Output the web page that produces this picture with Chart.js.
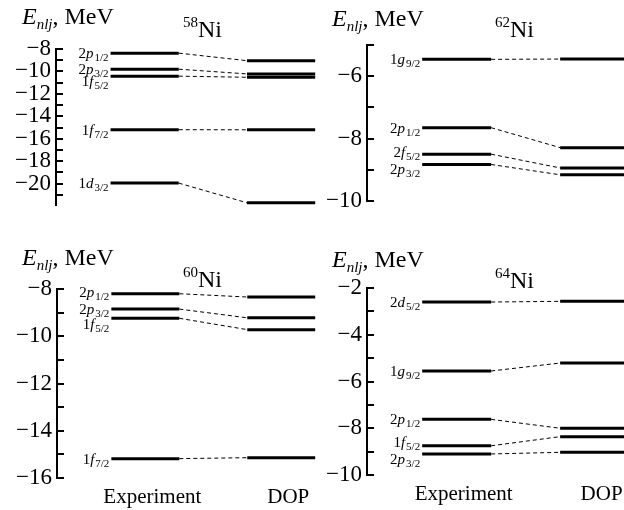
<!DOCTYPE html>
<html lang="ru">
<head>
<meta charset="UTF-8">
<title>Ni single-particle levels</title>
<script src="https://cdn.jsdelivr.net/npm/chart.js"></script>
<style>
  body{margin:0;background:#fff;overflow:hidden;}
  .wrap{position:relative;width:624px;height:510px;overflow:hidden;}
  canvas{position:absolute;}
</style>
</head>
<body>
<div class="wrap">
  <canvas id="ni58" width="322" height="245" style="left:0;top:0"></canvas>
  <canvas id="ni62" width="326" height="245" style="left:310px;top:0"></canvas>
  <canvas id="ni60" width="322" height="265" style="left:0;top:245px"></canvas>
  <canvas id="ni64" width="326" height="265" style="left:310px;top:245px"></canvas>
</div>
<script>
// energies E_nlj in MeV: experiment vs DOP
var ni58Levels = ['2p1/2', '2p3/2', '1f5/2', '1f7/2', '1d3/2'];
var ni58Exp = [-8.37, -9.8, -10.42, -15.19, -19.95];
var ni58Dop = [-9.04, -10.22, -10.52, -15.2, -21.7];

var ni62Levels = ['1g9/2', '2p1/2', '2f5/2', '2p3/2'];
var ni62Exp = [-5.46, -7.65, -8.5, -8.83];
var ni62Dop = [-5.45, -8.29, -8.94, -9.16];

var ni60Levels = ['2p1/2', '2p3/2', '1f5/2', '1f7/2'];
var ni60Exp = [-8.2, -8.85, -9.24, -15.18];
var ni60Dop = [-8.34, -9.22, -9.72, -15.14];

var ni64Levels = ['2d5/2', '1g9/2', '2p1/2', '1f5/2', '2p3/2'];
var ni64Exp = [-2.6, -5.55, -7.62, -8.75, -9.1];
var ni64Dop = [-2.57, -5.21, -8.0, -8.36, -9.03];

// axis ranges [min, max]
var ni58Range = [-21.9, -8];
var ni62Range = [-10, -5];
var ni60Range = [-16, -8];
var ni64Range = [-10, -2];

var columns = ['Experiment', 'DOP'];

var SERIF = "'Liberation Serif', 'Times New Roman', Times, 'DejaVu Serif', serif";
var HALF = 0.25; // half width of a level bar in x units

function minus(v) {
  return v < 0 ? '\u2212' + Math.abs(v) : '' + v;
}

function buildDatasets(exp, dop) {
  var ds = [];
  for (var i = 0; i < exp.length; i++) {
    ds.push({data: [{x: 1 - HALF, y: exp[i]}, {x: 1 + HALF, y: exp[i]}], borderWidth: 3});
    ds.push({data: [{x: 1 + HALF, y: exp[i]}, {x: 2 - HALF, y: dop[i]}], borderWidth: 1, borderDash: [4, 3]});
    ds.push({data: [{x: 2 - HALF, y: dop[i]}, {x: 2 + HALF, y: dop[i]}], borderWidth: 3});
  }
  ds.forEach(function (d) {
    d.borderColor = '#000';
    d.pointRadius = 0;
    d.fill = false;
    d.tension = 0;
  });
  return ds;
}

// draws titles and the nl_j labels with sub/superscripts
var textPlugin = {
  id: 'levelText',
  afterDraw: function (chart, args, o) {
    var ctx = chart.ctx;
    var xs = chart.scales.x, ys = chart.scales.y;
    ctx.save();
    ctx.fillStyle = '#000';
    ctx.textBaseline = 'alphabetic';
    ctx.textAlign = 'left';

    // E_nlj, MeV
    var x = o.title[0], y = o.title[1];
    ctx.font = 'italic 24px ' + SERIF;
    ctx.fillText('E', x, y);
    x += ctx.measureText('E').width;
    ctx.font = 'italic 15px ' + SERIF;
    ctx.fillText('nlj', x, y + 5);
    x += ctx.measureText('nlj').width;
    ctx.font = '24px ' + SERIF;
    ctx.fillText(', MeV', x, y);

    // isotope
    x = o.iso[0]; y = o.iso[1];
    ctx.font = '15px ' + SERIF;
    ctx.fillText(o.mass, x, y - 10);
    x += ctx.measureText(o.mass).width;
    ctx.font = '24px ' + SERIF;
    ctx.fillText('Ni', x, y);

    // level labels, right aligned at the start of the experiment bar
    var xEnd = xs.getPixelForValue(1 - HALF) - 2;
    o.levels.forEach(function (name, i) {
      var n = name.charAt(0), l = name.charAt(1), j = name.slice(2);
      var base = ys.getPixelForValue(o.exp[i]) + (o.nudge[i] || 0) + 5;
      ctx.font = '15px ' + SERIF;
      var wn = ctx.measureText(n).width;
      ctx.font = 'italic 15px ' + SERIF;
      var wl = ctx.measureText(l).width;
      ctx.font = '11px ' + SERIF;
      var wj = ctx.measureText(j).width;
      var sx = xEnd - (wn + wl + wj + 1);
      ctx.font = '15px ' + SERIF;
      ctx.fillText(n, sx, base);
      ctx.font = 'italic 15px ' + SERIF;
      ctx.fillText(l, sx + wn, base);
      ctx.font = '11px ' + SERIF;
      ctx.fillText(j, sx + wn + wl + 1, base + 3);
    });
    ctx.restore();
  }
};

function makePanel(id, levels, exp, dop, range, p) {
  var xScale = {
    type: 'linear',
    min: 0.35,
    max: 2.3,
    display: p.showX,
    grid: {display: false, drawTicks: false},
    border: {display: false},
    ticks: {
      autoSkip: false,
      color: '#000',
      font: {family: SERIF, size: 21},
      padding: 7,
      labelOffset: 7,
      callback: function (v) { return columns[v - 1]; }
    },
    afterBuildTicks: function (s) { s.ticks = [{value: 1}, {value: 2}]; },
    afterFit: function (s) { s.height = 32; s.paddingLeft = 0; s.paddingRight = 0; }
  };
  var yScale = {
    type: 'linear',
    min: range[0],
    max: range[1],
    grid: {
      drawOnChartArea: false,
      drawTicks: true,
      tickLength: -7,
      lineWidth: 2,
      color: '#000'
    },
    border: {display: true, color: '#000', width: 2},
    ticks: {
      autoSkip: false,
      stepSize: 1,
      includeBounds: false,
      padding: 12,
      color: '#000',
      font: {family: SERIF, size: 23},
      callback: function (v) { return v % 2 === 0 ? minus(v) : ''; }
    },
    afterFit: function (s) { s.width = p.axisWidth; s.paddingTop = 0; s.paddingBottom = 0; }
  };

  return new Chart(document.getElementById(id), {
    type: 'line',
    data: {datasets: buildDatasets(exp, dop)},
    options: {
      responsive: false,
      animation: false,
      events: [],
      layout: {autoPadding: false, padding: {left: 0, right: 0, top: p.padTop, bottom: p.padBottom}},
      plugins: {
        legend: {display: false},
        tooltip: {enabled: false},
        levelText: {title: p.title, iso: p.iso, mass: p.mass, levels: levels, exp: exp, nudge: p.nudge}
      },
      scales: {x: xScale, y: yScale}
    },
    plugins: [textPlugin]
  });
}

makePanel('ni58', ni58Levels, ni58Exp, ni58Dop, ni58Range, {
  showX: false, axisWidth: 56, padTop: 49, padBottom: 8,
  title: [22, 24], iso: [183, 37], mass: '58', nudge: [0, 0, 5, 0, 0]
});
makePanel('ni62', ni62Levels, ni62Exp, ni62Dop, ni62Range, {
  showX: false, axisWidth: 57, padTop: 45, padBottom: 12,
  title: [22, 26], iso: [185, 37], mass: '62', nudge: [0, 0, -2, 5]
});
makePanel('ni60', ni60Levels, ni60Exp, ni60Dop, ni60Range, {
  showX: true, axisWidth: 57, padTop: 44, padBottom: 0,
  title: [22, 20], iso: [183, 42], mass: '60', nudge: [-2, 0, 6, 0]
});
makePanel('ni64', ni64Levels, ni64Exp, ni64Dop, ni64Range, {
  showX: true, axisWidth: 57, padTop: 43, padBottom: 3,
  title: [22, 22], iso: [185, 43], mass: '64', nudge: [0, 0, 0, -4, 5]
});
</script>
</body>
</html>
